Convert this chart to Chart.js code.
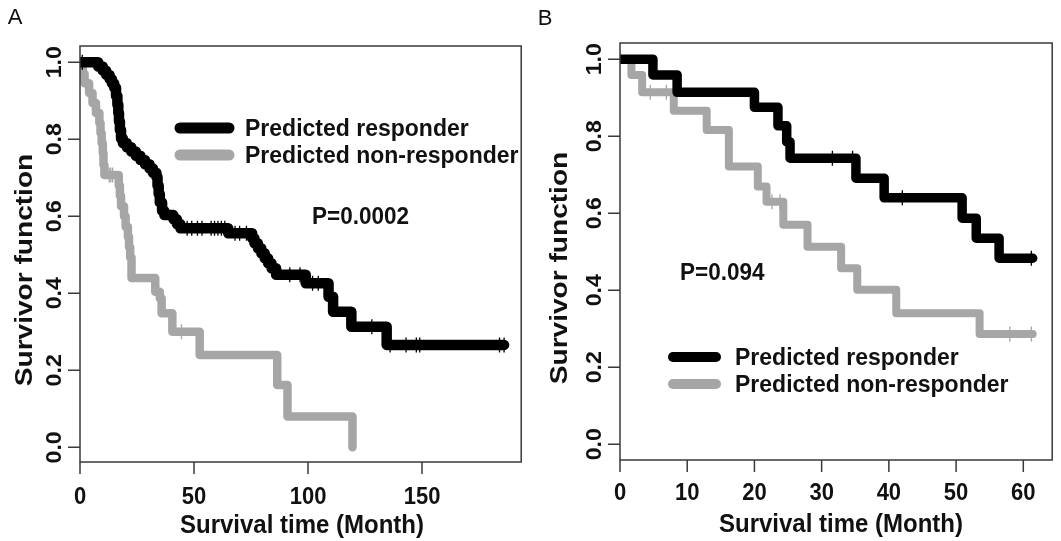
<!DOCTYPE html>
<html>
<head>
<meta charset="utf-8">
<script src="https://cdn.jsdelivr.net/npm/chart.js@4.4.1/dist/chart.umd.min.js"></script>
<style>
  html, body { margin: 0; padding: 0; background: #fff; }
  #wrap { position: relative; width: 1061px; height: 541px; }
  canvas { position: absolute; top: 0; }
  #chart-a { left: 0; }
  #chart-b { left: 530px; }
</style>
</head>
<body>
<div id="wrap">
  <canvas id="chart-a" width="530" height="541"></canvas>
  <canvas id="chart-b" width="531" height="541"></canvas>
</div>
<script>
// ===== data =====

// Panel A — predicted responder (KM steps: time, survival after the step)
const aRespTime = [0, 8, 10, 11.5, 13, 14, 15, 15.8, 16.4, 16.8, 17.1, 17.5, 18, 18.8, 20.5, 22.5, 24.5, 26.5, 28.5, 30.5, 32, 33.5, 34, 34.5, 35, 36, 37, 41, 42.5, 44, 65, 75.5, 76.5, 78, 79.5, 81, 82.5, 84, 86, 99, 109, 111, 119, 134.5, 186];
const aRespSurv = [1.0, 0.989, 0.978, 0.967, 0.956, 0.945, 0.934, 0.912, 0.89, 0.868, 0.846, 0.824, 0.802, 0.79, 0.779, 0.768, 0.757, 0.746, 0.735, 0.724, 0.713, 0.702, 0.68, 0.658, 0.636, 0.614, 0.603, 0.592, 0.58, 0.569, 0.556, 0.543, 0.53, 0.517, 0.504, 0.491, 0.478, 0.465, 0.448, 0.426, 0.391, 0.352, 0.313, 0.266, 0.266];
const aRespCensor = [1, 47, 49, 51.5, 53.5, 57.5, 59, 60.5, 62, 63.5, 68, 70, 73, 85, 92, 96.5, 102, 104.5, 128, 136, 143, 147.5, 149, 184, 186];

// Panel A — predicted non-responder
const aNonTime = [0, 1.2, 2, 4, 5.5, 7, 8.5, 9, 9.5, 10, 10.3, 10.7, 17, 17.5, 18, 19.3, 20, 21, 21.5, 22, 22.6, 33, 35, 35.8, 40.5, 52.5, 86.5, 91, 119.5];
const aNonSurv = [1.0, 0.97, 0.945, 0.92, 0.894, 0.868, 0.842, 0.816, 0.79, 0.764, 0.733, 0.707, 0.68, 0.653, 0.626, 0.6, 0.573, 0.547, 0.52, 0.493, 0.44, 0.404, 0.387, 0.348, 0.3, 0.24, 0.162, 0.08, 0.0];
const aNonCensor = [12.8, 13.5, 14.3, 44.5];

// Panel B — predicted responder
const bRespTime = [0, 4.9, 8.5, 20, 23.5, 24.8, 25.3, 35.1, 39.3, 50.9, 53, 56.4, 61.4];
const bRespSurv = [1.0, 0.959, 0.914, 0.875, 0.827, 0.785, 0.743, 0.691, 0.64, 0.587, 0.535, 0.483, 0.483];
const bRespCensor = [31.6, 34.6, 42, 61.2];

// Panel B — predicted non-responder
const bNonTime = [0, 1.7, 3.3, 8, 12.9, 16.2, 20.5, 21.8, 24.3, 27.9, 32.9, 35.3, 41.1, 53.5, 61.4];
const bNonSurv = [1.0, 0.959, 0.914, 0.866, 0.816, 0.721, 0.669, 0.63, 0.57, 0.513, 0.457, 0.401, 0.34, 0.286, 0.286];
const bNonCensor = [4.5, 6.9, 22.6, 23.8, 58, 61.2];

const aXTicks = [0, 50, 100, 150];
const bXTicks = [0, 10, 20, 30, 40, 50, 60];
const yTicks = [0.0, 0.2, 0.4, 0.6, 0.8, 1.0];
const legendLabels = ["Predicted responder", "Predicted non-responder"];

// ===== helpers =====

const BLACK = "#000000";
const GREY = "#a6a6a6";
const FONT = "'Liberation Sans', Arial, sans-serif";

function survAt(times, surv, t) {
  let s = surv[0];
  for (let i = 0; i < times.length; i++) if (times[i] <= t) s = surv[i];
  return s;
}

function curve(times, surv, color, width) {
  return {
    data: times.map((t, i) => ({ x: t, y: surv[i] })),
    stepped: true,
    borderColor: color,
    borderWidth: width,
    borderCapStyle: "round",
    borderJoinStyle: "round",
    pointRadius: 0,
    fill: false,
  };
}

function censorMarks(censor, times, surv, color) {
  return {
    data: censor.map((t) => ({ x: t, y: survAt(times, surv, t) })),
    showLine: false,
    pointStyle: "line",
    rotation: 90,
    pointRadius: 7.5,
    pointBorderColor: color,
    pointBorderWidth: 1.3,
  };
}

// sy: vertical stretch of the glyphs (the source picture is a bit taller than wide)
function text(ctx, str, x, y, size, opts = {}) {
  ctx.save();
  ctx.translate(x, y);
  if (opts.sy) ctx.scale(1, opts.sy);
  if (opts.rot) ctx.rotate(opts.rot);
  ctx.font = `${opts.normal ? "" : "bold "}${size}px ${FONT}`;
  ctx.fillStyle = "#111";
  ctx.textAlign = opts.align || "center";
  ctx.textBaseline = "middle";
  ctx.fillText(str, 0, 0);
  ctx.restore();
}

// R-style frame, ticks, labels, legend
const rFrame = {
  id: "rFrame",
  afterDraw(chart) {
    const o = chart.options.plugins.rFrame;
    const { ctx, chartArea: a, scales } = chart;
    const xs = scales.x, ys = scales.y;
    ctx.save();
    ctx.strokeStyle = "#3a3a3a";
    ctx.lineWidth = 1.5;
    ctx.strokeRect(a.left, a.top, a.right - a.left, a.bottom - a.top);
    ctx.beginPath();
    for (const v of o.xTicks) {
      const px = xs.getPixelForValue(v);
      ctx.moveTo(px, a.bottom); ctx.lineTo(px, a.bottom + 12);
    }
    for (const v of yTicks) {
      const py = ys.getPixelForValue(v);
      ctx.moveTo(a.left, py); ctx.lineTo(a.left - 12, py);
    }
    ctx.stroke();
    ctx.restore();

    for (const v of o.xTicks) text(ctx, String(v), xs.getPixelForValue(v), o.xTickY, 22, { sy: 1.08 });
    for (const v of yTicks) text(ctx, v.toFixed(1), o.yTickX, ys.getPixelForValue(v), 22, { rot: -Math.PI / 2, sy: 1.05 });

    text(ctx, "Survival time (Month)", o.xTitle[0], o.xTitle[1], 24, { sy: 1.1 });
    text(ctx, "Survivor function", o.yTitle[0], o.yTitle[1], 24, { rot: -Math.PI / 2, sy: 1.17 });
    text(ctx, o.letter, o.letterPos[0], o.letterPos[1], 22, { normal: true });
    text(ctx, o.pText, o.pPos[0], o.pPos[1], 22.5, { align: "left", sy: 1.08 });

    // legend
    const ds = chart.data.datasets;
    legendLabels.forEach((lab, i) => {
      const d = ds[i * 2];
      const y = o.legend.y + i * o.legend.gap;
      ctx.save();
      ctx.strokeStyle = d.borderColor;
      ctx.lineWidth = o.legend.lw;
      ctx.lineCap = "round";
      ctx.beginPath();
      ctx.moveTo(o.legend.x0, y); ctx.lineTo(o.legend.x1, y);
      ctx.stroke();
      ctx.restore();
      text(ctx, lab, o.legend.tx, y + 1, 23, { align: "left", sy: 1.05 });
    });
  },
};

function makeChart(id, datasets, xMax, yMin, padding, frame) {
  return new Chart(document.getElementById(id), {
    type: "line",
    data: { datasets },
    options: {
      responsive: false,
      animation: false,
      devicePixelRatio: 1,
      layout: { padding },
      plugins: { legend: { display: false }, tooltip: { enabled: false }, rFrame: frame },
      scales: {
        x: { type: "linear", min: 0, max: xMax, display: false },
        y: { type: "linear", min: yMin, max: 1.042, display: false },
      },
    },
    plugins: [rFrame],
  });
}

makeChart("chart-a", [
  curve(aRespTime, aRespSurv, BLACK, 10.5),
  censorMarks(aRespCensor, aRespTime, aRespSurv, BLACK),
  curve(aNonTime, aNonSurv, GREY, 8.5),
  censorMarks(aNonCensor, aNonTime, aNonSurv, GREY),
], 193.5, -0.038, { left: 80, top: 46, right: 2, bottom: 79 }, {
  xTicks: aXTicks, xTickY: 497, yTickX: 55,
  xTitle: [302, 526], yTitle: [25, 270],
  letter: "A", letterPos: [15, 18],
  pText: "P=0.0002", pPos: [312, 217],
  legend: { x0: 180, x1: 229, y: 128, gap: 27, lw: 11, tx: 245 },
});

makeChart("chart-b", [
  curve(bRespTime, bRespSurv, BLACK, 9.5),
  censorMarks(bRespCensor, bRespTime, bRespSurv, BLACK),
  curve(bNonTime, bNonSurv, GREY, 8),
  censorMarks(bNonCensor, bNonTime, bNonSurv, GREY),
], 64.3, -0.041, { left: 90, top: 43, right: 1, bottom: 81 }, {
  xTicks: bXTicks, xTickY: 493, yTickX: 65,
  xTitle: [311, 525], yTitle: [30, 268],
  letter: "B", letterPos: [15, 19],
  pText: "P=0.094", pPos: [150, 273],
  legend: { x0: 143, x1: 186, y: 357, gap: 27, lw: 10, tx: 205 },
});
</script>
</body>
</html>
